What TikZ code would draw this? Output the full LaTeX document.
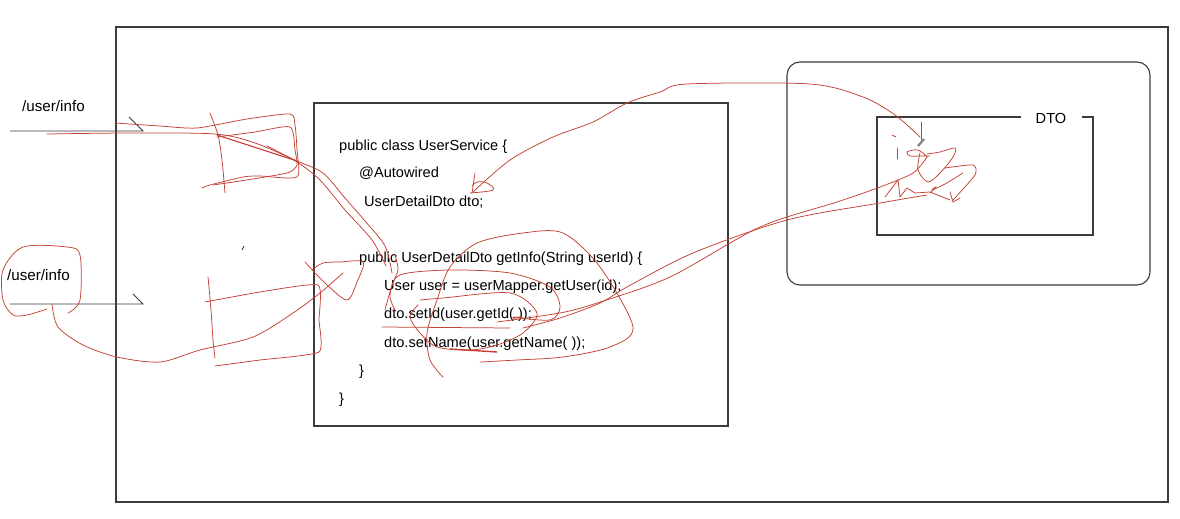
\documentclass[tikz,border=0pt]{standalone}
\usepackage{fontspec}
\setmainfont{Liberation Sans}
\definecolor{ink}{RGB}{195,65,50}
\definecolor{frameg}{RGB}{60,60,60}
\begin{document}
\begin{tikzpicture}[x=1pt,y=-1pt,
  frame/.style={draw=frameg, line width=1.1pt, inner sep=0pt, outer sep=0pt, anchor=north west},
  code/.style={anchor=base west, inner sep=0pt, font=\fontsize{14.6}{16}\selectfont},
  lbl/.style={anchor=base west, inner sep=0pt, font=\fontsize{15.2}{17}\selectfont},
  arr/.style={draw=frameg, line width=0.9pt},
  scrib/.style={draw=ink, line width=0.75pt, line cap=round, line join=round},
  scribk/.style={draw=ink, line width=1.4pt, line cap=round}]
\useasboundingbox[fill=white] (0,0) rectangle (1180,519);

% frames
\node[frame, minimum width=1052pt, minimum height=475pt] (outer) at (116,27) {};
\node[frame, minimum width=414pt, minimum height=323pt] (codebox) at (314,103) {};
\node[frame, rounded corners=13pt, minimum width=363pt, minimum height=223pt] (ctx) at (787,62) {};
\node[frame, minimum width=216pt, minimum height=118pt] (dtobox) at (877,117) {};
\node[fill=white, inner sep=0pt, minimum width=61pt, minimum height=8pt, font=\fontsize{14.6}{16}\selectfont] (dtolabel) at (1051,118.5) {\raisebox{-0.5pt}{DTO}};

% labels
\node[lbl] (u1) at (22,111) {/user/info};
\node[lbl] (u2) at (7,280) {/user/info};

% code
\node[code] (c1) at (339,150) {public class UserService \{};
\node[code] (c2) at (359,177) {@Autowired};
\node[code] (c3) at (364,206) {UserDetailDto dto;};
\node[code] (c4) at (359,262) {public UserDetailDto getInfo(String userId) \{};
\node[code] (c5) at (384,290) {User user = userMapper.getUser(id);};
\node[code] (c6) at (384,318) {dto.setId(user.getId( ));};
\node[code] (c7) at (384,347) {dto.setName(user.getName( ));};
\node[code] (c8) at (359,375) {\}};
\node[code] (c9) at (339,403) {\}};

% request arrows
\coordinate (a1s) at (10,131); \coordinate (a1e) at (143,131);
\coordinate (a2s) at (10,304); \coordinate (a2e) at (143,304);
\draw[arr] (a1s) -- (a1e) -- ++(-14,-14);
\draw[arr] (a2s) -- (a2e) -- ++(-10,-10);
\draw[draw=frameg, line width=0.9pt] (242,250) -- (244,246);

% ---- red scribbles ----
% top-left
\draw[scrib] plot[smooth, tension=0.5] coordinates {(47,134) (130,133) (215,134) (255,143) (297,161) (323,173) (345,198) (365,221) (385,246) (392,273)};
\draw[scrib] plot[smooth, tension=0.5] coordinates {(267,146) (297,162) (320,180) (345,210) (372,240) (386,266)};
\draw[scribk, line width=1.1pt] (217,135) -- (297,161);
\draw[scrib] plot[smooth, tension=0.4] coordinates {(115,123) (160,126) (197,128) (247,119) (290,114) (295,125) (297,150) (297,177) (260,176) (243,177) (210,185) (202,188)};
\draw[scrib] plot[smooth, tension=0.4] coordinates {(217,137) (255,132) (290,127) (295,150) (297,165) (290,172) (277,175) (240,181) (213,185)};
\draw[scrib] plot[smooth, tension=0.5] coordinates {(210,113) (218,135) (222,160) (225,193)};
% lower-left
\draw[scrib] plot[smooth, tension=0.5] coordinates {(208,277) (211,310) (213,340) (215,358)};
\draw[scrib] plot[smooth, tension=0.3] coordinates {(205,302) (260,292) (318,285) (319,320) (319,352) (260,360) (215,366)};
\draw[scrib] plot[smooth, tension=0.5] coordinates {(52,304) (58,327) (83,345) (117,357) (160,362) (200,350) (253,337) (293,313) (320,293) (343,273)};
\draw[scrib] plot[smooth, tension=0.5] coordinates {(305,262) (325,283) (347,300) (357,282) (363,262) (340,262) (323,263) (312,270)};
\draw[scrib] plot[smooth, tension=0.5] coordinates {(68,313) (80,300) (80,255) (67,247) (23,247) (3,270) (3,300) (13,315) (27,315) (47,309)};
% code region
\draw[scrib] plot[smooth, tension=0.5] coordinates {(443,377) (430,360) (427,333) (437,300) (450,267) (477,243) (523,233) (563,233) (600,267) (633,327) (610,347) (563,357) (517,360) (480,362)};
\draw[scrib] plot[smooth, tension=0.5] coordinates {(395,310) (390,295) (400,275) (450,270) (510,273) (550,287) (560,307) (550,320) (513,317)};
\draw[scrib] plot[smooth, tension=0.5] coordinates {(420,300) (443,298) (510,293) (537,313) (523,333) (497,345) (470,350) (437,347) (420,333) (410,317) (418,305)};
\draw[scrib] plot[smooth, tension=0.5] coordinates {(395,255) (398,270) (392,285) (385,310)};
\draw[scrib] (382,327) -- (510,328);
\draw[scribk] (450,349) -- (497,352);
\draw[scribk] (513,318) -- (522,317);
% lines to DTO
\draw[scrib] plot[smooth, tension=0.5] coordinates {(497,322) (560,313) (597,303) (670,277) (760,227) (837,202) (880,187) (913,173) (927,157)};
\draw[scrib] plot[smooth, tension=0.5] coordinates {(523,328) (560,318) (600,303) (627,287) (693,253) (787,220) (880,203) (927,195)};
% arrow to dto field
\draw[scrib] plot[smooth, tension=0.5] coordinates {(920,137) (895,115) (863,97) (810,84) (687,84) (660,92) (627,103) (593,122) (553,137) (510,160) (473,192)};
\draw[scrib] plot[smooth, tension=0.6] coordinates {(470,193) (493,190) (487,183) (477,182) (472,186)};
\draw[scrib] (475,173) -- (472,193);
% scribble inside DTO
\draw[scrib] (892,135) -- (896,137);
\draw[scrib] (897,148) -- (897,159);
\draw[scrib] (921,122) -- (921,140);
\draw[scrib] plot[smooth, tension=0.6] coordinates {(927,157) (918,150) (907,152) (910,156) (918,156) (930,156)};
\draw[scrib] plot[smooth, tension=0.5] coordinates {(920,153) (918,170) (928,182) (940,173) (953,157) (955,148) (940,152) (927,154)};
\draw[scrib] plot[smooth, tension=0.4] coordinates {(945,168) (973,165) (975,175) (953,200)};
\draw[scrib] (950,192) -- (953,202) -- (960,198);
\draw[scrib] plot[tension=0.4] coordinates {(885,197) (898,180) (900,197) (907,188) (915,193) (930,192) (950,200)};
\draw[scrib] plot[smooth, tension=0.5] coordinates {(930,193) (936,187) (932,190) (945,184) (963,173)};
\draw[draw=gray, line width=2.2pt] (918,146) -- (924,139);
\end{tikzpicture}
\end{document}
